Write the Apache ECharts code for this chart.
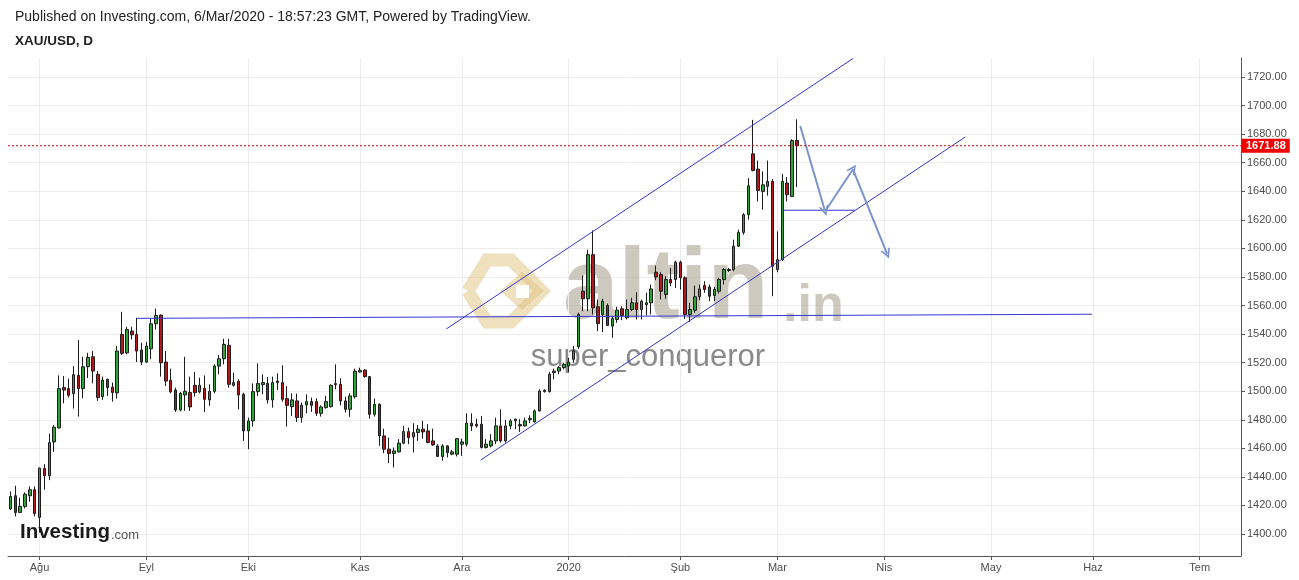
<!DOCTYPE html>
<html>
<head>
<meta charset="utf-8">
<script src="https://cdn.jsdelivr.net/npm/echarts@6/dist/echarts.min.js"></script>
<style>
html,body{margin:0;padding:0;background:#ffffff;}
#chart{width:1299px;height:580px;}
</style>
</head>
<body>
<div id="chart"></div>
<script>
// ---- DATA ----
const firstBarDate = '2019-07-24';
const totalBars = 254; // visible trading-day slots incl. empty future area

const opens = [1417.5,1426.8,1415.1,1419.3,1426.8,1431.0,1411.6,1445.9,1440.8,1464.5,
1474.3,1502.5,1501.8,1498.3,1511.1,1501.8,1517.1,1524.1,1511.8,1496.2,
1508.3,1502.9,1498.8,1539.7,1526.9,1542.1,1539.7,1528.8,1520.4,1529.7,
1547.2,1553.3,1520.4,1507.6,1500.8,1486.9,1497.4,1499.0,1504.1,1499.5,
1502.0,1493.9,1499.9,1517.6,1522.7,1532.1,1504.1,1506.9,1497.8,1472.2,
1479.2,1499.7,1504.6,1505.5,1493.9,1507.1,1506.0,1494.8,1489.2,1493.2,
1481.5,1490.4,1492.7,1492.7,1484.5,1488.5,1489.2,1505.3,1504.8,1493.2,
1487.3,1496.2,1513.4,1514.8,1510.2,1483.8,1490.8,1468.7,1459.4,1456.4,
1457.5,1463.6,1471.7,1468.0,1471.0,1473.4,1472.2,1465.2,1461.7,1454.3,
1461.7,1455.9,1455.9,1462.9,1462.9,1477.6,1476.9,1476.9,1460.6,1461.7,
1465.2,1475.7,1465.2,1475.7,1479.2,1476.6,1475.7,1480.1,1478.5,1486.2,
1499.7,1499.7,1513.0,1514.1,1516.5,1517.6,1522.3,1531.1,1570.0,1564.7,
1595.6,1559.1,1553.7,1560.0,1545.6,1550.2,1557.7,1551.4,1557.2,1561.9,
1557.2,1560.7,1561.9,1583.3,1581.7,1567.7,1578.2,1578.2,1590.3,1579.4,
1553.7,1556.7,1566.1,1574.0,1573.0,1567.0,1570.0,1578.2,1585.2,1585.2,
1601.5,1611.2,1623.6,1666.2,1655.5,1639.9,1643.4,1646.9,1585.2,1592.1,
1645.7,1636.4,1675.5];

const closes = [1426.3,1415.1,1419.3,1427.9,1431.0,1414.4,1446.1,1440.8,1464.0,1474.8,
1501.8,1500.8,1497.1,1511.6,1501.8,1517.1,1523.7,1514.1,1495.5,1507.8,
1502.5,1499.0,1528.1,1526.5,1543.2,1539.5,1528.1,1520.4,1531.6,1547.2,
1553.0,1519.9,1507.1,1499.5,1486.9,1498.5,1499.9,1489.0,1499.0,1504.1,
1494.3,1499.9,1517.6,1522.7,1532.8,1504.8,1506.0,1497.4,1472.2,1479.2,
1499.7,1505.3,1506.0,1493.9,1506.0,1506.0,1494.3,1490.1,1493.9,1481.5,
1490.1,1492.7,1490.1,1484.5,1489.0,1492.7,1504.1,1504.6,1493.2,1487.3,
1496.7,1514.1,1514.6,1510.2,1483.8,1490.8,1468.7,1459.4,1456.4,1458.2,
1463.6,1471.7,1467.5,1471.0,1473.4,1471.5,1464.0,1462.4,1454.3,1461.7,
1457.1,1457.5,1466.8,1464.5,1477.6,1475.7,1475.7,1460.6,1462.9,1465.2,
1475.7,1465.2,1475.7,1479.2,1480.4,1475.7,1479.2,1481.0,1486.2,1500.1,
1500.6,1511.8,1514.1,1516.5,1518.8,1520.4,1528.1,1553.7,1564.7,1595.6,
1558.4,1547.4,1563.0,1546.0,1550.7,1556.7,1553.0,1557.2,1561.9,1557.2,
1563.0,1561.9,1571.6,1580.0,1570.0,1578.2,1575.8,1590.3,1579.4,1553.7,
1557.2,1566.1,1571.6,1571.2,1566.5,1571.2,1578.2,1585.2,1584.5,1601.5,
1611.2,1623.6,1643.8,1654.6,1640.6,1644.5,1646.9,1587.5,1592.1,1646.9,
1637.6,1675.5,1671.88];

const lows = [1416.8,1412.3,1414.7,1417.9,1422.6,1412.3,1401.0,1431.0,1437.7,1457.5,
1473.8,1491.5,1495.5,1487.8,1482.2,1495.0,1509.2,1505.5,1493.2,1493.9,
1496.7,1492.7,1494.8,1525.3,1525.8,1536.3,1520.4,1518.3,1519.9,1522.3,
1543.2,1510.2,1503.6,1498.5,1485.5,1485.9,1486.2,1486.2,1496.2,1498.5,
1485.5,1489.7,1498.5,1511.8,1518.8,1502.5,1503.2,1487.3,1465.2,1459.4,
1475.2,1496.7,1497.8,1491.3,1488.5,1500.8,1492.7,1475.2,1482.7,1478.5,
1478.0,1484.5,1485.5,1482.7,1482.2,1487.8,1488.5,1501.3,1490.1,1485.0,
1482.0,1494.8,1513.0,1509.5,1480.8,1482.2,1461.7,1456.6,1449.6,1446.6,
1457.1,1462.9,1462.9,1457.1,1465.2,1466.8,1463.6,1461.7,1454.0,1451.2,
1453.6,1455.2,1454.3,1454.7,1461.3,1472.2,1474.5,1459.9,1459.9,1460.6,
1462.9,1464.0,1464.0,1473.4,1473.4,1471.5,1475.2,1477.6,1478.0,1485.7,
1499.0,1499.0,1508.3,1511.8,1515.3,1513.0,1519.9,1529.7,1556.0,1556.0,
1553.7,1542.1,1541.4,1545.6,1537.4,1547.9,1549.8,1550.2,1556.0,1550.2,
1550.2,1553.0,1553.7,1577.7,1564.2,1564.7,1573.5,1572.3,1571.2,1550.7,
1548.4,1554.9,1563.7,1568.9,1563.0,1563.0,1568.4,1574.7,1583.3,1584.0,
1601.0,1609.6,1620.1,1653.9,1632.9,1627.1,1636.9,1566.5,1583.3,1591.0,
1632.9,1635.9,1642.9];

const highs = [1429.8,1433.8,1425.4,1429.1,1433.3,1433.3,1446.6,1448.9,1470.3,1476.2,
1511.1,1510.6,1508.8,1517.6,1535.8,1524.1,1526.9,1528.1,1514.1,1510.2,
1508.8,1506.0,1531.6,1555.6,1545.1,1545.1,1551.4,1533.9,1534.6,1550.7,
1557.9,1553.7,1528.1,1515.8,1502.5,1499.5,1524.1,1510.2,1513.4,1509.5,
1511.1,1504.8,1518.8,1525.3,1536.7,1536.7,1513.0,1508.3,1499.0,1481.5,
1505.5,1519.5,1511.8,1509.9,1510.2,1512.5,1518.1,1503.6,1498.5,1498.3,
1492.0,1497.8,1495.5,1495.0,1490.1,1496.7,1504.8,1518.8,1509.0,1496.2,
1498.5,1515.8,1516.5,1515.3,1510.6,1494.8,1491.5,1473.8,1467.5,1460.6,
1466.4,1475.7,1474.5,1477.6,1476.2,1479.2,1476.9,1473.8,1462.9,1462.9,
1462.2,1458.9,1466.8,1466.8,1484.5,1484.5,1480.8,1482.7,1466.4,1469.9,
1481.5,1487.3,1479.9,1480.4,1480.8,1480.4,1481.5,1483.1,1487.3,1501.3,
1501.3,1513.4,1515.8,1517.6,1519.9,1523.4,1531.6,1554.9,1581.0,1599.1,
1612.6,1564.2,1564.7,1561.4,1552.1,1559.1,1559.5,1564.2,1565.4,1569.3,
1564.2,1568.9,1574.7,1588.0,1583.3,1580.5,1586.3,1591.4,1591.4,1580.5,
1561.9,1574.0,1574.7,1577.0,1574.7,1573.0,1579.4,1586.3,1586.3,1606.1,
1613.1,1624.7,1649.2,1690.0,1661.5,1653.9,1661.5,1648.5,1611.9,1652.2,
1649.9,1676.4,1690.4];

const monthTickDates = ['2019-08-01','2019-09-02','2019-10-01','2019-11-01','2019-12-02','2020-01-01','2020-02-03','2020-03-02','2020-04-01','2020-05-01','2020-06-01','2020-07-01'];
const monthTickLabels = ['Ağu','Eyl','Eki','Kas','Ara','2020','Şub','Mar','Nis','May','Haz','Tem'];

const lastPrice = 1671.88;

// drawn annotations, as [bar index, price]
const supportLine = [[26.0,1551.0],[222.8,1553.9]];
const channelUpper = [[89.8,1543.6],[173.6,1733.0]];
const channelLower = [[96.9,1451.8],[196.7,1678.0]];
const targetLine = [[159.0,1626.7],[174.0,1626.7]];
const arrowSegments = [
  [[162.7,1685.7],[167.8,1626.2]],
  [[168.0,1626.9],[173.6,1655.6]],
  [[173.6,1654.9],[180.6,1596.1]]
];

// ---- BUILD ----
function weekdayList(start, n) {
  const out = [];
  const d = new Date(start + 'T00:00:00Z');
  while (out.length < n) {
    const w = d.getUTCDay();
    if (w !== 0 && w !== 6) out.push(d.toISOString().slice(0, 10));
    d.setUTCDate(d.getUTCDate() + 1);
  }
  return out;
}
const categories = weekdayList(firstBarDate, totalBars);
const candleData = opens.map((o, i) => [o, closes[i], lows[i], highs[i]]);
const labelMap = {};
monthTickDates.forEach((d, i) => { labelMap[d] = monthTickLabels[i]; });
const tickIdx = new Set(monthTickDates.map(d => categories.indexOf(d)));
const xMin = -0.5, xMax = totalBars - 0.5;

const FONT = '"Liberation Sans", Arial, Helvetica, sans-serif';
const chart = echarts.init(document.getElementById('chart'), null, {renderer: 'canvas'});

const blueLine = (name, data) => ({
  type: 'line', name, xAxisIndex: 1, yAxisIndex: 0, data,
  symbol: 'none', silent: true, z: 3, color: '#3434d2',
  lineStyle: {color: '#3434d2', width: 1}
});

const option = {
  animation: false,
  backgroundColor: '#ffffff',
  grid: {left: 8, right: 58, top: 58, bottom: 24, containLabel: false},
  xAxis: [
    {
      type: 'category', data: categories, boundaryGap: true, position: 'bottom',
      axisLine: {show: true, onZero: false, lineStyle: {color: '#555555', width: 1}},
      axisTick: {show: true, alignWithLabel: true, length: 4,
        interval: (idx) => tickIdx.has(idx), lineStyle: {color: '#555555'}},
      axisLabel: {interval: (idx) => tickIdx.has(idx),
        formatter: (v) => labelMap[v] || '', color: '#4d4d4d', fontSize: 11,
        fontFamily: FONT, margin: 6},
      splitLine: {show: false}
    },
    {
      type: 'value', min: xMin, max: xMax, show: false,
      axisLine: {onZero: false},
      splitLine: {show: false}
    }
  ],
  yAxis: [{
    type: 'value', position: 'right', min: 1384.6, max: 1733.3,
    splitNumber: 17, minInterval: 20, maxInterval: 20,
    axisLine: {show: true, onZero: false, lineStyle: {color: '#555555', width: 1}},
    axisTick: {show: true, inside: false, length: 4, lineStyle: {color: '#555555'}},
    axisLabel: {formatter: (v) => v.toFixed(2), color: '#4d4d4d', fontSize: 11,
      fontFamily: FONT, margin: 6, showMinLabel: false, showMaxLabel: false},
    splitLine: {show: true, showMinLine: false, showMaxLine: false,
      lineStyle: {color: '#ececec', width: 1}}
  }],
  series: [
    {
      type: 'candlestick', name: 'XAU/USD', xAxisIndex: 0, yAxisIndex: 0,
      data: candleData, barWidth: 3, z: 2,
      itemStyle: {color: '#2ba535', color0: '#b2181e', borderColor: '#1c1c1c',
        borderColor0: '#1c1c1c', borderWidth: 1},
      markLine: {
        silent: true, symbol: ['none', 'none'], z: 1, animation: false,
        label: {show: false},
        lineStyle: {color: '#ececec', type: 'solid', width: 1},
        emphasis: {disabled: true},
        data: monthTickDates.map(d => ({xAxis: d}))
      }
    },
    {
      type: 'line', name: 'lastPrice', xAxisIndex: 1, yAxisIndex: 0,
      data: [[xMin, lastPrice], [xMax, lastPrice]],
      symbol: 'none', silent: true, z: 6, color: '#e00000', clip: false,
      lineStyle: {color: '#e00000', type: [2, 2], width: 1},
      endLabel: {show: true, distance: 1, formatter: () => lastPrice.toFixed(2),
        color: '#ffffff', backgroundColor: '#f20000', fontWeight: 'bold',
        fontSize: 11, fontFamily: FONT, padding: [2, 4, 1, 4]}
    },
    blueLine('support', supportLine),
    blueLine('channelUpper', channelUpper),
    blueLine('channelLower', channelLower),
    blueLine('target', targetLine),
    {
      type: 'lines', name: 'arrows', coordinateSystem: 'cartesian2d',
      xAxisIndex: 1, yAxisIndex: 0, silent: true, z: 4,
      symbol: ['none', 'path://M0,10 L5,0 L10,10 L8.2,10 L5,3.6 L1.8,10 Z'],
      symbolSize: [11, 10],
      lineStyle: {color: '#7b93cb', width: 2, opacity: 1, curveness: 0},
      data: arrowSegments.map(s => ({coords: s}))
    }
  ],
  graphic: [
    {type: 'text', x: 15, y: 17, z: 10, style: {text: 'Published on Investing.com, 6/Mar/2020 - 18:57:23 GMT, Powered by TradingView.',
      fill: '#222222', font: '14px ' + FONT, verticalAlign: 'middle', textVerticalAlign: 'middle'}},
    {type: 'text', x: 15, y: 41, z: 10, style: {text: 'XAU/USD, D',
      fill: '#222222', font: 'bold 13.5px ' + FONT, verticalAlign: 'middle', textVerticalAlign: 'middle'}},
    // altin.in watermark logo
    {type: 'polyline', z: 1, silent: true, shape: {points: [[468,291],[487,260],[511,260],[542,291],[511,322],[487,322],[468,291]]},
      style: {stroke: 'rgba(224,193,126,0.5)', lineWidth: 13, fill: null, lineJoin: 'miter'}},
    {type: 'polygon', z: 1, silent: true, shape: {points: [[500,291],[522,272],[544,291],[522,310]]},
      style: {fill: 'rgba(224,193,126,0.5)'}},
    {type: 'rect', z: 1, silent: true, shape: {x: 516, y: 285, width: 13, height: 13},
      style: {fill: '#ffffff'}},
    {type: 'text', x: 563, y: 340, z: 1, silent: true, style: {text: 'altin',
      fill: 'rgba(190,183,168,0.75)', font: 'bold 100px ' + FONT, verticalAlign: 'bottom', textVerticalAlign: 'bottom'}},
    {type: 'text', x: 783, y: 333, z: 1, silent: true, style: {text: '.in',
      fill: 'rgba(190,183,168,0.75)', font: 'bold 52px ' + FONT, verticalAlign: 'bottom', textVerticalAlign: 'bottom'}},
    {type: 'text', x: 648, y: 357, z: 1, silent: true, style: {text: 'super_conqueror',
      fill: '#8a8a8a', font: '31px ' + FONT, align: 'center', textAlign: 'center',
      verticalAlign: 'middle', textVerticalAlign: 'middle'}},
    // Investing.com logo
    {type: 'text', x: 20, y: 532, z: 10, silent: true, style: {text: 'Investing',
      fill: '#1a1a1a', font: 'bold 20.5px ' + FONT, verticalAlign: 'middle', textVerticalAlign: 'middle'}},
    {type: 'text', x: 111, y: 535, z: 10, silent: true, style: {text: '.com',
      fill: '#555555', font: '13px ' + FONT, verticalAlign: 'middle', textVerticalAlign: 'middle'}}
  ]
};
chart.setOption(option);
</script>
</body>
</html>
